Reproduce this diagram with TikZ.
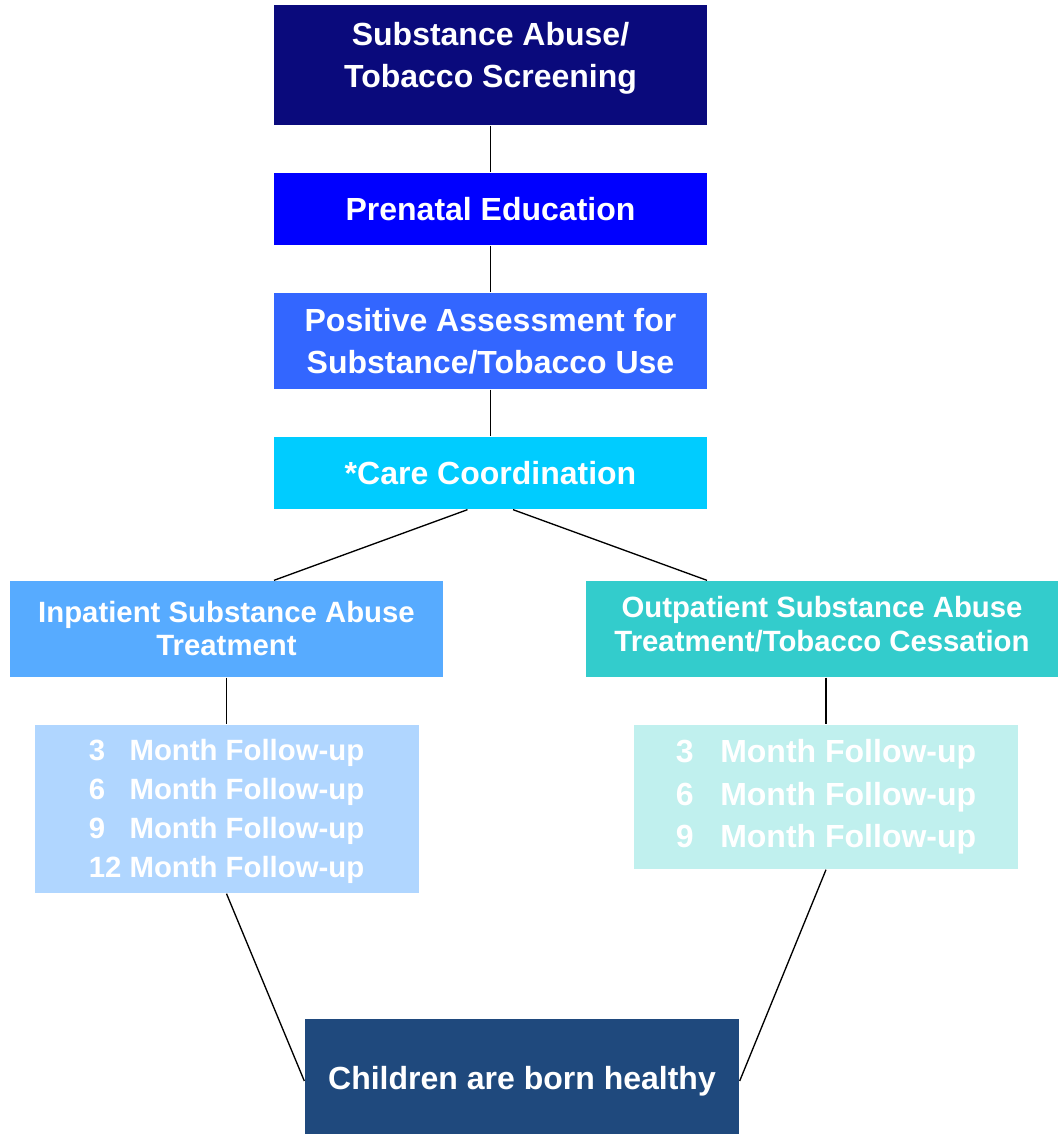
\documentclass[tikz,border=0pt]{standalone}
\usepackage{fontspec}
\setmainfont{Liberation Sans}

\definecolor{screenblue}{HTML}{0A0A7C}
\definecolor{edublue}{HTML}{0000FF}
\definecolor{assessblue}{HTML}{3366FF}
\definecolor{careblue}{HTML}{00CCFF}
\definecolor{inblue}{HTML}{57ABFF}
\definecolor{outteal}{HTML}{33CCCC}
\definecolor{infublue}{HTML}{B0D6FF}
\definecolor{outfuteal}{HTML}{C0F0EE}
\definecolor{healthblue}{HTML}{1F497D}

\newcommand{\followup}[1]{\makebox[1.112em][l]{#1}\ Month Follow-up}

\begin{document}
\begin{tikzpicture}[
		x=0.75pt,
		y=-0.75pt,
		line width=1pt,
		every node/.style={
			shape=rectangle,
			inner sep=0pt,
			align=center,
			text=white,
			font=\fontsize{24}{31.5}\selectfont\bfseries,
		},
		stepbox/.style={
			minimum width=324.75pt,
			minimum height=#1,
		},
		smalltext/.style={
			font=\fontsize{22}{25.25}\selectfont\bfseries,
		},
	]
		\useasboundingbox (0,0) rectangle (1058,1134);

		\node[stepbox=90pt, fill=screenblue, text depth=15.5pt] (screening) at (490.5,65) {Substance Abuse/\\Tobacco Screening};
		\node[stepbox=54pt, fill=edublue] (prenatal) at (490.5,209) {Prenatal Education};
		\node[stepbox=72pt, fill=assessblue] (assess) at (490.5,341) {Positive Assessment for\\Substance/Tobacco Use};
		\node[stepbox=54pt, fill=careblue] (care) at (490.5,473) {*Care Coordination};

		\node[stepbox=72pt, smalltext, fill=inblue, text depth=1pt] (inpat) at (226.5,629) {Inpatient Substance Abuse\\Treatment};
		\node[stepbox=72pt, minimum width=354pt, smalltext, fill=outteal, text depth=8pt] (outpat) at (822,629) {Outpatient Substance Abuse\\Treatment/Tobacco Cessation};

		\node[minimum width=288pt, minimum height=126pt, fill=infublue, align=left,
			font=\fontsize{22}{29.25}\selectfont\bfseries, text depth=1pt] (infu) at (226.5,809) {%
			\followup{3}\\\followup{6}\\\followup{9}\\\followup{12}};
		\node[minimum width=288pt, minimum height=108pt, fill=outfuteal, align=left,
			font=\fontsize{24}{32}\selectfont\bfseries] (outfu) at (826,797) {%
			\followup{3}\\\followup{6}\\\followup{9}};

		\node[minimum width=325.5pt, minimum height=93pt, fill=healthblue] (children) at (522,1081) {Children are born healthy};

		\draw (screening) -- (prenatal);
		\draw (prenatal) -- (assess);
		\draw (assess) -- (care);
		\draw ([xshift=-17.25pt]care.south) -- ([xshift=35.6pt]inpat.north);
		\draw ([xshift=16.9pt]care.south) -- ([xshift=-86.25pt]outpat.north);
		\draw (inpat) -- (infu);
		\draw (outfu.north |- outpat.south) -- (outfu.north);
		\draw (infu.south) -- (children.west);
		\draw (outfu.south) -- (children.east);
	\end{tikzpicture}
\end{document}
